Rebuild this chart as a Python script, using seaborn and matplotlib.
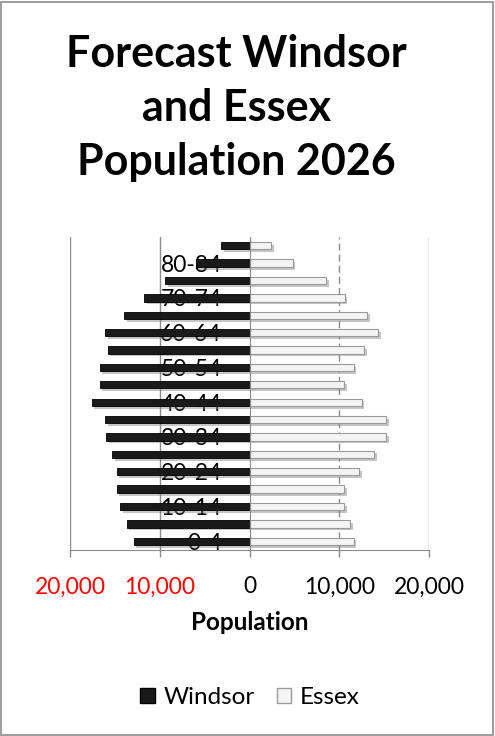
import numpy as np
import pandas as pd
import seaborn as sns
import matplotlib.pyplot as plt
import matplotlib.patheffects as pe
from matplotlib.patches import Patch, Rectangle

# age groups from youngest to oldest
ages = ['0-4', '5-9', '10-14', '15-19', '20-24', '25-29', '30-34', '35-39', '40-44',
        '45-49', '50-54', '55-59', '60-64', '65-69', '70-74', '75-79', '80-84', '85+']
windsor = [12900, 13700, 14400, 14800, 14800, 15300, 16000, 16100, 17600,
           16700, 16700, 15800, 16100, 14000, 11700, 9400, 6000, 3200]
essex = [11600, 11200, 10500, 10500, 12200, 13900, 15200, 15200, 12500,
         10500, 11600, 12800, 14300, 13100, 10600, 8500, 4800, 2400]
xticks = [-20000, -10000, 0, 10000, 20000]
xtick_labels = ['20,000', '10,000', '0', '10,000', '20,000']

df = pd.DataFrame({'age': ages, 'Windsor': [-v for v in windsor], 'Essex': essex})
order = ages[::-1]  # oldest at the top

sns.set_style('white')
plt.rcParams['font.family'] = ['Lato', 'DejaVu Sans']
for k in ['text.color', 'axes.labelcolor', 'xtick.color', 'ytick.color']:
    plt.rcParams[k] = 'black'

fig = plt.figure(figsize=(4.95, 7.36), dpi=100)
ax = fig.add_axes([0.1414, 0.2527, 0.7253, 0.4253])

shadow = [pe.SimplePatchShadow(offset=(2, -2), shadow_rgbFace='#808080', alpha=0.45), pe.Normal()]
sns.barplot(data=df, y='age', x='Windsor', order=order, orient='h', color='#1a1a1a',
            width=0.42, edgecolor='#000000', linewidth=0.6, ax=ax)
sns.barplot(data=df, y='age', x='Essex', order=order, orient='h', color='#f4f4f4',
            width=0.42, edgecolor='#9a9a9a', linewidth=0.8, ax=ax)
for p in ax.patches:
    p.set_path_effects(shadow)

ax.set_xlim(-20000, 20000)
ax.set_ylim(len(ages) - 0.5, -0.5)

# grid lines
for x in [-20000, -10000, 20000]:
    ax.axvline(x, color='#8c8c8c', lw=1, zorder=0)
ax.axvline(10000, color='#8c8c8c', lw=1, ls=(0, (5, 3)), zorder=0)

for s in ['top', 'right']:
    ax.spines[s].set_visible(False)
ax.spines['bottom'].set_color('#8c8c8c')
ax.spines['left'].set_visible(True)
ax.spines['left'].set_position(('data', 0))
ax.spines['left'].set_color('#8c8c8c')
ax.spines['left'].set_zorder(5)

# y labels, every second group
ylabels = [a if ages.index(a) % 2 == 0 else '' for a in order]
ax.set_yticks(range(len(order)))
ax.set_yticklabels(ylabels, fontsize=16.5)
ax.tick_params(axis='y', length=0, pad=20)
ax.set_yticks(np.arange(-0.5, len(order), 1), minor=True)
ax.tick_params(axis='y', which='minor', length=5, color='#8c8c8c', direction='out', width=1)
for t in ax.get_yticklabels():
    t.set_zorder(6)

ax.set_xticks(xticks)
ax.set_xticklabels(xtick_labels, fontsize=16.5)
ax.tick_params(axis='x', length=5, color='#8c8c8c', direction='out', width=1, pad=14, bottom=True)
for t, v in zip(ax.get_xticklabels(), xticks):
    t.set_color('red' if v < 0 else 'black')
ax.set_ylabel('')
ax.set_xlabel('Population', fontsize=17.5, fontweight='bold', labelpad=10)

fig.text(0.477, 0.853, 'Forecast Windsor\nand Essex\nPopulation 2026', ha='center', va='center',
         fontsize=31, fontweight='bold', linespacing=1.42)

handles = [Patch(facecolor='#1a1a1a', edgecolor='#000000'),
           Patch(facecolor='#f4f4f4', edgecolor='#9a9a9a')]
fig.legend(handles, ['Windsor', 'Essex'], loc='center', bbox_to_anchor=(0.505, 0.052), ncol=2,
           frameon=False, fontsize=17.5, handlelength=0.6, handleheight=0.6, handletextpad=0.35,
           columnspacing=0.9)

fig.patches.append(Rectangle((0.003, 0.002), 0.993, 0.995, transform=fig.transFigure,
                             fill=False, edgecolor='#8c8c8c', lw=1.2))

fig.savefig('out.png', dpi=100)
